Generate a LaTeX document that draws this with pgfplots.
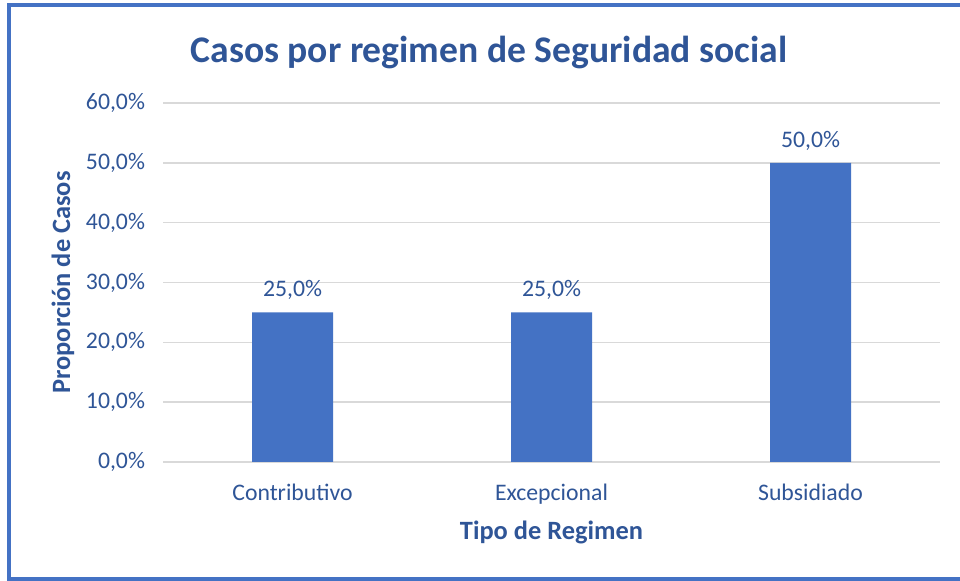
\documentclass[border=0pt]{standalone}
\usepackage{fontspec}
\setmainfont{Carlito}
\usepackage{pgfplots}
\pgfplotsset{compat=1.18}
\definecolor{txt}{HTML}{2F5597}
\definecolor{barc}{HTML}{4472C4}
\definecolor{gridc}{HTML}{D9D9D9}
\begin{document}
\begin{tikzpicture}
\clip (0,0) rectangle (720pt,435.75pt);
\fill[white] (0,0) rectangle (720pt,435.75pt);
\draw[barc, line width=3pt] (6.75pt,1.3pt) rectangle (726pt,432pt);
\node[font=\fontsize{28.2}{33}\selectfont\bfseries, text=txt] at (366.75pt,396pt) {Casos por regimen de Seguridad social};
\begin{axis}[
  at={(122.25pt,89.25pt)}, anchor=south west, scale only axis,
  width=582.75pt, height=269.25pt,
  xmin=-0.5, xmax=2.5, ymin=0, ymax=60,
  ytick={0,10,...,60},
  xtick={0,1,2},
  xticklabels={Contributivo,Excepcional,Subsidiado},
  /pgf/number format/assume math mode=true,
  yticklabel={\pgfmathprintnumber[fixed,fixed zerofill,precision=1,use comma]{\tick}\%},
  axis line style={draw=none},
  major tick length=0pt,
  ymajorgrids,
  grid style={gridc, line width=1.1pt},
  ticklabel style={font=\fontsize{17.8}{21}\selectfont, text=txt},
  yticklabel style={xshift=-10pt},
  xticklabel style={yshift=-13pt},
  xlabel={Tipo de Regimen},
  ylabel={Proporción de Casos},
  label style={font=\fontsize{19.8}{23}\selectfont\bfseries, text=txt},
  xlabel style={at={(axis description cs:0.5,0)}, anchor=center, yshift=-53pt},
  ylabel style={at={([xshift=-75pt]axis description cs:0,0.5)}, anchor=center},
  ybar, bar width=60.75pt,
  nodes near coords={\pgfmathprintnumber[fixed,fixed zerofill,precision=1,use comma]{\pgfplotspointmeta}\%},
  nodes near coords style={font=\fontsize{17.8}{21}\selectfont, text=txt, yshift=6pt},
  clip=false,
]
\addplot[fill=barc, draw=none] coordinates {(0,25) (1,25) (2,50)};
\end{axis}
\end{tikzpicture}
\end{document}
